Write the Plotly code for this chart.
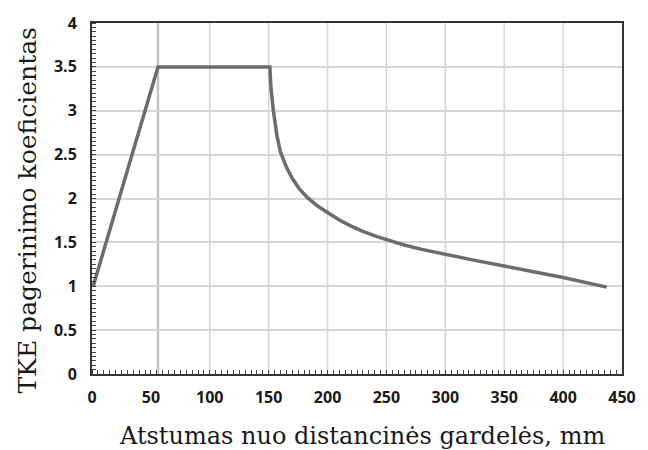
import plotly.graph_objects as go

# distance from spacer grid, mm
distance_mm = [1, 56, 151, 152, 154, 157, 160, 165, 170, 176, 183, 191, 200, 210,
               220, 230, 242, 250, 265, 280, 300, 325, 350, 375, 400, 437]
# TKE enhancement coefficient
tke_coef = [1.0, 3.5, 3.5, 3.25, 3.0, 2.72, 2.53, 2.36, 2.23, 2.11, 2.01, 1.92, 1.84, 1.755,
            1.685, 1.625, 1.565, 1.53, 1.47, 1.42, 1.36, 1.295, 1.23, 1.165, 1.10, 0.99]

x_ticks = [0, 50, 100, 150, 200, 250, 300, 350, 400, 450]
x_grid = [100, 150, 200, 250, 300, 350, 400]
y_ticks = [0, 0.5, 1, 1.5, 2, 2.5, 3, 3.5, 4]
y_tick_text = ["0", "0.5", "1", "1.5", "2", "2.5", "3", "3.5", "4"]

fig = go.Figure()
for gx in x_grid:
    fig.add_vline(x=gx, line=dict(color="#d6d6d6", width=1.5), layer="below")
# vertical reference line at the plateau start
fig.add_vline(x=distance_mm[1], line=dict(color="#c4c4c4", width=2.5), layer="below")

fig.add_trace(go.Scatter(x=distance_mm, y=tke_coef, mode="lines",
                         line=dict(color="#6c6c6c", width=3.5),
                         showlegend=False, hoverinfo="skip"))

tick_font = dict(family="Open Sans", size=16, color="#1a1a1a", weight="bold")
title_font = dict(family="DejaVu Serif", size=24, color="#1a1a1a")

fig.add_annotation(text="Atstumas nuo distancinės gardelės, mm", xref="paper", yref="paper",
                   x=0.509, y=-0.176, xanchor="center", yanchor="middle",
                   showarrow=False, font=title_font)
fig.add_annotation(text="TKE pagerinimo koeficientas", xref="paper", yref="paper",
                   x=-0.122, y=0.467, xanchor="center", yanchor="middle", textangle=-90,
                   showarrow=False, font=dict(family="DejaVu Serif", size=25, color="#1a1a1a"))

fig.update_layout(
    width=648, height=450,
    margin=dict(l=92, r=20, t=21, b=76),
    paper_bgcolor="white", plot_bgcolor="white",
    xaxis=dict(range=[0, 450], tickvals=x_ticks, ticktext=[str(v) for v in x_ticks],
               showgrid=False, ticklabelstandoff=8,
               showline=True, linecolor="#333333", linewidth=2, mirror=True,
               ticks="", tickfont=tick_font, zeroline=False,
               minor=dict(dtick=5, ticks="inside", ticklen=4, tickcolor="#444444", showgrid=False)),
    yaxis=dict(range=[0, 4], tickvals=y_ticks, ticktext=y_tick_text,
               showgrid=True, gridcolor="#d6d6d6", gridwidth=1.5, ticklabelstandoff=10,
               showline=True, linecolor="#333333", linewidth=2, mirror=True,
               ticks="", tickfont=tick_font, zeroline=False,
               minor=dict(dtick=0.05, ticks="inside", ticklen=4, tickcolor="#444444", showgrid=False)),
)

fig.write_html("out.html")
